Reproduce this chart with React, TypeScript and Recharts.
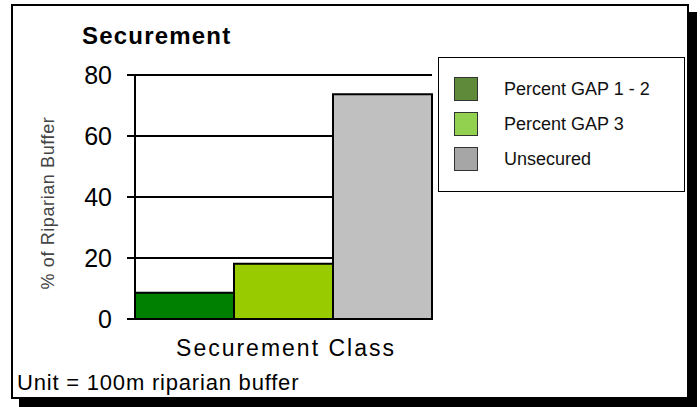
import { Bar, BarChart, CartesianGrid, XAxis, YAxis } from 'recharts';

const categories = ['Securement Class'];
const gap12 = [8.6];
const gap3 = [18.1];
const unsecured = [73.7];
const yTicks = [0, 20, 40, 60, 80];

const seriesNames = ['Percent GAP 1 - 2', 'Percent GAP 3', 'Unsecured'];
const barColors = ['#008000', '#99cc00', '#c0c0c0'];
const legendColors = ['#5e8a3a', '#92d050', '#a6a6a6'];

const data = categories.map((name, i) => ({
  name,
  gap12: gap12[i],
  gap3: gap3[i],
  unsecured: unsecured[i],
}));

const font = "Arial, 'Liberation Sans', sans-serif";

const App: React.FC = () => {
  return (
    <div
      style={{
        position: 'absolute',
        left: 0,
        top: 0,
        width: 700,
        height: 407,
        background: '#fff',
        fontFamily: font,
        overflow: 'hidden',
      }}
    >
      {/* frame with drop shadow */}
      <div
        style={{
          position: 'absolute',
          left: 11,
          top: 4,
          width: 678,
          height: 395,
          boxSizing: 'border-box',
          border: '2px solid #000',
          boxShadow: '8px 8px 0 #000',
          background: '#fff',
        }}
      />
      <div
        style={{
          position: 'absolute',
          left: 82,
          top: 24,
          fontSize: 24,
          fontWeight: 'bold',
          letterSpacing: 1.2,
          lineHeight: 1,
        }}
      >
        Securement
      </div>
      <div
        style={{
          position: 'absolute',
          left: 48,
          top: 203,
          transform: 'translate(-50%, -50%) rotate(-90deg)',
          whiteSpace: 'nowrap',
          fontSize: 18,
          letterSpacing: 0.6,
          color: '#444',
          lineHeight: 1,
        }}
      >
        % of Riparian Buffer
      </div>
      <div style={{ position: 'absolute', left: 0, top: 0 }}>
        <BarChart
          width={700}
          height={407}
          data={data}
          margin={{ top: 75, right: 268, left: 75, bottom: 88 }}
          barGap={0}
          barCategoryGap={0}
        >
          <CartesianGrid vertical={false} stroke="#000" strokeWidth={2} />
          <XAxis dataKey="name" hide />
          <YAxis
            width={60}
            domain={[0, 80]}
            ticks={yTicks}
            interval={0}
            axisLine={{ stroke: '#000', strokeWidth: 2 }}
            tickLine={{ stroke: '#000', strokeWidth: 2 }}
            tickSize={8}
            tickMargin={15}
            tick={{ fill: '#000', fontSize: 25, fontFamily: font }}
          />
          <Bar dataKey="gap12" fill={barColors[0]} stroke="#000" strokeWidth={2} isAnimationActive={false} />
          <Bar dataKey="gap3" fill={barColors[1]} stroke="#000" strokeWidth={2} isAnimationActive={false} />
          <Bar dataKey="unsecured" fill={barColors[2]} stroke="#000" strokeWidth={2} isAnimationActive={false} />
        </BarChart>
      </div>
      <div
        style={{
          position: 'absolute',
          left: 286,
          top: 337,
          transform: 'translateX(-50%)',
          whiteSpace: 'nowrap',
          fontSize: 23,
          letterSpacing: 2,
          lineHeight: 1,
        }}
      >
        {categories[0]}
      </div>
      <div
        style={{
          position: 'absolute',
          left: 17,
          top: 372,
          whiteSpace: 'nowrap',
          fontSize: 22,
          letterSpacing: 0.8,
          lineHeight: 1,
        }}
      >
        Unit = 100m riparian buffer
      </div>
      {/* legend */}
      <div
        style={{
          position: 'absolute',
          left: 438,
          top: 57,
          width: 247,
          height: 135,
          boxSizing: 'border-box',
          border: '1.5px solid #000',
          background: '#fff',
        }}
      >
        {seriesNames.map((n, i) => (
          <div
            key={n}
            style={{
              position: 'absolute',
              left: 15,
              top: 19 + i * 35,
              display: 'flex',
              alignItems: 'center',
              height: 24,
            }}
          >
            <div
              style={{
                width: 24,
                height: 24,
                boxSizing: 'border-box',
                border: '1px solid #333',
                background: legendColors[i],
              }}
            />
            <span style={{ marginLeft: 26, fontSize: 18, color: '#111', whiteSpace: 'nowrap' }}>{n}</span>
          </div>
        ))}
      </div>
    </div>
  );
};

export default App;
